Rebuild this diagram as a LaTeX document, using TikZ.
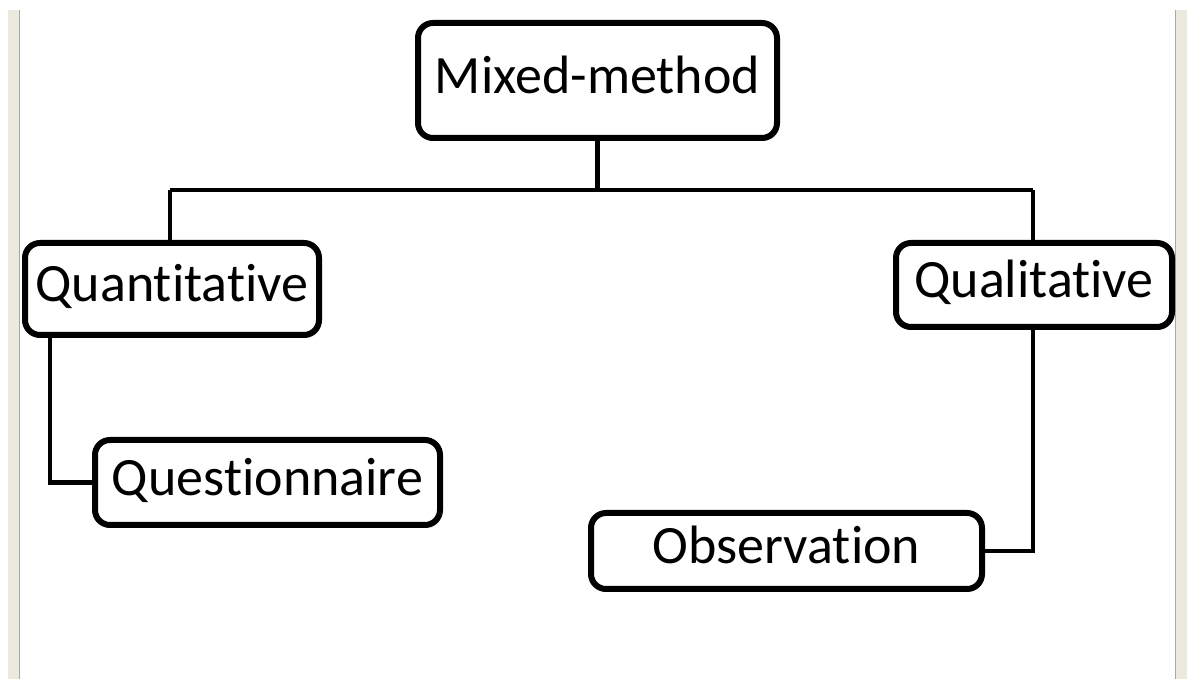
\documentclass[tikz,border=0pt]{standalone}
\usepackage{fontspec}
\setmainfont{Carlito}[Ligatures=NoCommon]
\usetikzlibrary{shadows}
\definecolor{beige}{HTML}{ECE9DE}
\definecolor{edge}{HTML}{A8A8A8}
\begin{document}
\begin{tikzpicture}[x=1pt,y=1pt,
  box/.style={draw=black, line width=6pt, rounded corners=15pt, fill=white,
    drop shadow={opacity=0.25, shadow xshift=2pt, shadow yshift=-3pt},
    font=\fontsize{54}{60}\selectfont, inner sep=0pt, align=center,
    text height=36pt, text depth=10pt},
  conn/.style={draw=black, line width=4.2pt}]
\useasboundingbox (0,0) rectangle (1187,679);
\fill[white] (0,0) rectangle (1187,679);
\fill[beige] (8,0) rectangle (19,669);
\fill[beige] (1176,0) rectangle (1187,669);
\draw[edge, line width=1pt] (19.5,0) -- (19.5,669);
\draw[edge, line width=1pt] (1175.5,0) -- (1175.5,669);

\node[box, minimum width=359pt, minimum height=115pt] (mixed) at (597.5,598.5) {Mixed-method};
\node[box, minimum width=294pt, minimum height=92pt] (quant) at (172,390) {Quantitative};
\node[box, minimum width=345pt, minimum height=85pt] (quest) at (267.5,196.5) {Questionnaire};
\node[box, minimum width=276pt, minimum height=84pt] (qual) at (1034,394) {Qualitative};
\node[box, minimum width=391pt, minimum height=76pt] (obs) at (786.5,128) {Observation};

\coordinate (hub) at (597.5,489);
\coordinate (hl) at (170,489);
\coordinate (hr) at (1033,489);
\draw[conn] (mixed.south) -- (hub);
\draw[conn] (hl) -- (hr);
\draw[conn] (hl) -- (hl |- quant.north);
\draw[conn] (hr) -- (hr |- qual.north);
\draw[conn] (50,390 |- quant.south) |- (quest.west);
\draw[conn] (1033,394 |- qual.south) |- (obs.east);
\end{tikzpicture}
\end{document}
